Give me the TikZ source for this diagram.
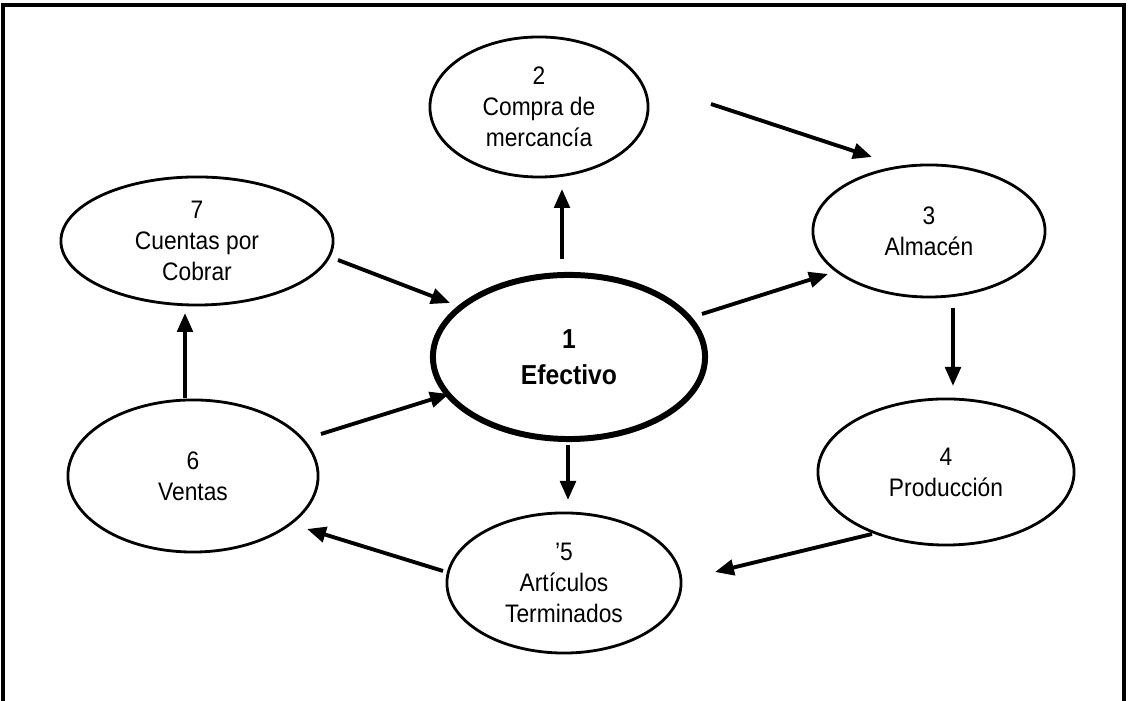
\documentclass[tikz,border=0pt]{standalone}
\usepackage{fontspec}
\setmainfont{Liberation Sans}[FakeStretch=0.9]
\usetikzlibrary{shapes.geometric,arrows.meta}

\tikzset{
  ciclo/.style={ellipse, draw, line width=0.8pt, inner sep=0pt, align=center,
    font=\fontsize{7.2}{8.8}\selectfont},
  flecha/.style={-{Triangle[length=5.4pt,width=4.4pt]}, line width=1.1pt},
}

\begin{document}
\begin{tikzpicture}[x=0.01cm, y=-0.01cm]
\useasboundingbox (0,0) rectangle (1129,701);

% marco
\draw [line width=0.9pt] (3,701) -- (3,5) -- (1124,5) -- (1124,701);

% etapas del ciclo
\node [ciclo, minimum width=2.72cm, minimum height=1.64cm, line width=1.7pt,
  font=\fontsize{7.8}{10.4}\selectfont\bfseries] (1) at (569,357) {1\\Efectivo};
\node [ciclo, minimum width=2.18cm, minimum height=1.40cm] (2) at (539,107) {2\\Compra de\\mercancía};
\node [ciclo, minimum width=2.32cm, minimum height=1.32cm] (3) at (929,231) {3\\Almacén};
\node [ciclo, minimum width=2.56cm, minimum height=1.46cm] (4) at (946,472) {4\\Producción};
\node [ciclo, minimum width=2.34cm, minimum height=1.40cm] (5) at (564,583) {'5\\Artículos\\Terminados};
\node [ciclo, minimum width=2.50cm, minimum height=1.52cm] (6) at (193,476) {6\\Ventas};
\node [ciclo, minimum width=2.72cm, minimum height=1.28cm] (7) at (197,241) {7\\Cuentas por\\Cobrar};

% flechas
\draw [flecha] ([shift={(-7,-98)}]1.center) to ([shift={(23,82)}]2.center);
\draw [flecha] ([shift={(172,-3)}]2.center) to ([shift={(-57,-74)}]3.center);
\draw [flecha] ([shift={(133,-43)}]1.center) to ([shift={(-101,43)}]3.center);
\draw [flecha] ([shift={(24,77)}]3.center) to ([shift={(7,-86)}]4.center);
\draw [flecha] ([shift={(-74,62)}]4.center) to ([shift={(151,-11)}]5.center);
\draw [flecha] ([shift={(-1,88)}]1.center) to ([shift={(4,-83)}]5.center);
\draw [flecha] ([shift={(-121,-12)}]5.center) to ([shift={(114,53)}]6.center);
\draw [flecha] ([shift={(128,-42)}]6.center) to ([shift={(-120,37)}]1.center);
\draw [flecha] ([shift={(-8,-78)}]6.center) to ([shift={(-12,72)}]7.center);
\draw [flecha] ([shift={(141,19)}]7.center) to ([shift={(-119,-54)}]1.center);
\end{tikzpicture}
\end{document}
